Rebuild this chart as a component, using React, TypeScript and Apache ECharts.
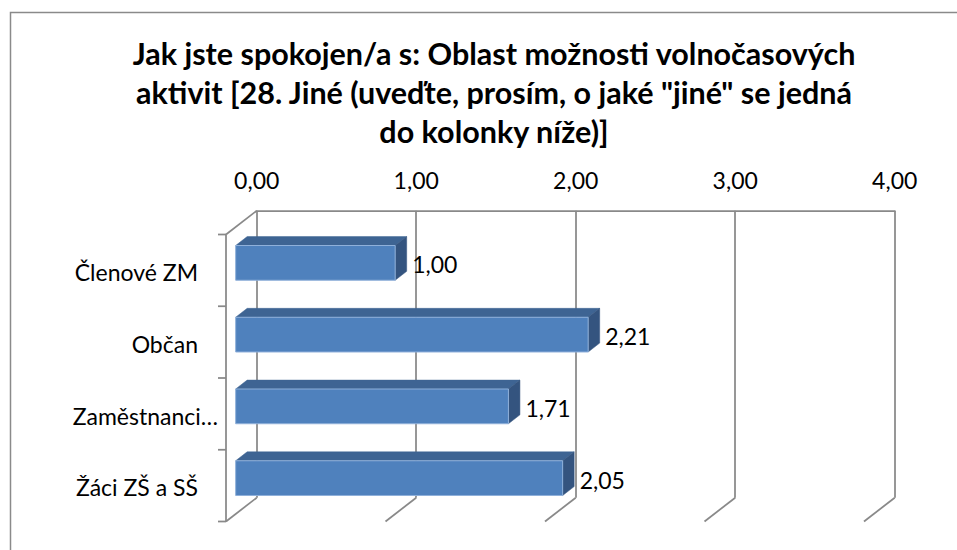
import React, { useEffect, useRef } from "react";
import * as echarts from "echarts";

const TITLE = 'Jak jste spokojen/a s: Oblast možnosti volnočasových\naktivit [28. Jiné (uveďte, prosím, o jaké "jiné" se jedná\ndo kolonky níže)]';
const CATEGORIES = ["Členové ZM", "Občan", "Zaměstnanci…", "Žáci ZŠ a SŠ"];
const VALUES = [1.0, 2.21, 1.71, 2.05];
const TICKS = [0, 1, 2, 3, 4];

const FONT = "Lato, 'Liberation Sans', sans-serif";
const GRID_COLOR = "#898989";
const DEPTH = [-30.7, 23.8];
const BAR_FRONT = 0.685;
const BAR_BACK = 0.31;
const BAR_H = 0.484;

const fmt = (v: number) => v.toFixed(2).replace(".", ",");

export default function App() {
  const ref = useRef<HTMLDivElement>(null);
  useEffect(() => {
    if (!ref.current) return;
    const chart = echarts.init(ref.current, undefined, { renderer: "svg" });

    const wallsItem = (params: any, api: any) => {
      const cs = params.coordSys;
      const v = api.value(0);
      const p = api.coord([v, 0]);
      const x = p[0];
      const top = cs.y;
      const bottom = cs.y + cs.height;
      const ls = { stroke: GRID_COLOR, lineWidth: 1.75, fill: "none" };
      const children: any[] = [
        { type: "line", shape: { x1: x, y1: bottom, x2: x + DEPTH[0], y2: bottom + DEPTH[1] }, style: ls },
      ];
      if (v === TICKS[0]) {
        const fx = x + DEPTH[0];
        children.push({ type: "line", shape: { x1: x, y1: top, x2: fx, y2: top + DEPTH[1] }, style: ls });
        children.push({ type: "line", shape: { x1: fx, y1: top + DEPTH[1], x2: fx, y2: bottom + DEPTH[1] }, style: ls });
        const band = cs.height / CATEGORIES.length;
        for (let k = 0; k <= CATEGORIES.length; k++) {
          const y = top + k * band + DEPTH[1];
          children.push({ type: "line", shape: { x1: fx - 8, y1: y, x2: fx, y2: y }, style: ls });
        }
      }
      return { type: "group", children };
    };

    const barItem = (params: any, api: any) => {
      const v = api.value(0);
      const ci = api.value(1);
      const s = api.coord([0, ci]);
      const e = api.coord([v, ci]);
      const band = api.size([0, 1])[1];
      const h = band * BAR_H;
      const fx = DEPTH[0] * BAR_FRONT, fy = DEPTH[1] * BAR_FRONT;
      const bx = DEPTH[0] * BAR_BACK, by = DEPTH[1] * BAR_BACK;
      const x0 = s[0] + fx, x1 = e[0] + fx;
      const yc = s[1] + fy;
      const y0 = yc - h / 2, y1 = yc + h / 2;
      const x0b = s[0] + bx, x1b = e[0] + bx;
      const ycb = s[1] + by;
      const y0b = ycb - h / 2, y1b = ycb + h / 2;
      return {
        type: "group",
        children: [
          { type: "polygon", shape: { points: [[x0, y0], [x1, y0], [x1b, y0b], [x0b, y0b]] }, style: { fill: "#3E6493", stroke: "#3E6493", lineWidth: 0.5 } },
          { type: "polygon", shape: { points: [[x1, y0], [x1b, y0b], [x1b, y1b], [x1, y1]] }, style: { fill: "#34547F", stroke: "#34547F", lineWidth: 0.5 } },
          { type: "rect", shape: { x: x0, y: y0, width: x1 - x0, height: h }, style: { fill: "#4F81BD", stroke: "#8FB0DA", lineWidth: 1 } },
          { type: "text", x: x1 + 17, y: yc + 1.5, style: { text: fmt(v), fill: "#000", font: `23px ${FONT}`, align: "left", verticalAlign: "middle" } },
        ],
      };
    };

    chart.setOption({
      animation: false,
      backgroundColor: "#fff",
      title: {
        text: TITLE,
        left: 494,
        top: 33.5,
        padding: 0,
        textAlign: "center",
        textStyle: { fontFamily: FONT, fontSize: 30.5, fontWeight: "bold", color: "#000", lineHeight: 39 },
      },
      graphic: [
        { type: "rect", shape: { x: 10.5, y: 12.5, width: 1000, height: 700 }, style: { fill: "none", stroke: "#8a8a8a", lineWidth: 1.5 }, silent: true, z: 0 },
      ],
      grid: { left: 256.7, right: 62.3, top: 210.7, bottom: 52.3, containLabel: false, outerBoundsMode: "none" },
      xAxis: {
        type: "value",
        position: "top",
        min: 0,
        max: 4,
        interval: 1,
        axisLine: { show: true, lineStyle: { color: GRID_COLOR, width: 1.75 } },
        axisTick: { show: false },
        splitLine: { show: true, lineStyle: { color: GRID_COLOR, width: 1.75 } },
        axisLabel: { formatter: (v: number) => fmt(v), fontSize: 23, fontFamily: FONT, color: "#000", margin: 19 },
      },
      yAxis: {
        type: "category",
        data: CATEGORIES,
        inverse: true,
        axisLine: { show: false },
        axisTick: { show: false },
        splitLine: { show: false },
        axisLabel: {
          fontSize: 23,
          fontFamily: FONT,
          color: "#000",
          margin: 38.7,
          padding: [51, 0, 0, 0],
          interval: 0,
          formatter: (v: string) => (v.endsWith("…") ? v : `${v}{sp| }`),
          rich: { sp: { width: 20, fontSize: 23 } },
        },
      },
      series: [
        { type: "custom", z: 1, silent: true, renderItem: wallsItem, data: TICKS.map((t) => [t, 0]) },
        { type: "custom", z: 3, silent: true, renderItem: barItem, data: CATEGORIES.map((c, i) => [VALUES[i], i]) },
      ],
    });
    return () => chart.dispose();
  }, []);
  return <div ref={ref} style={{ position: "absolute", left: 0, top: 0, width: 957, height: 550, background: "#fff" }} />;
}
